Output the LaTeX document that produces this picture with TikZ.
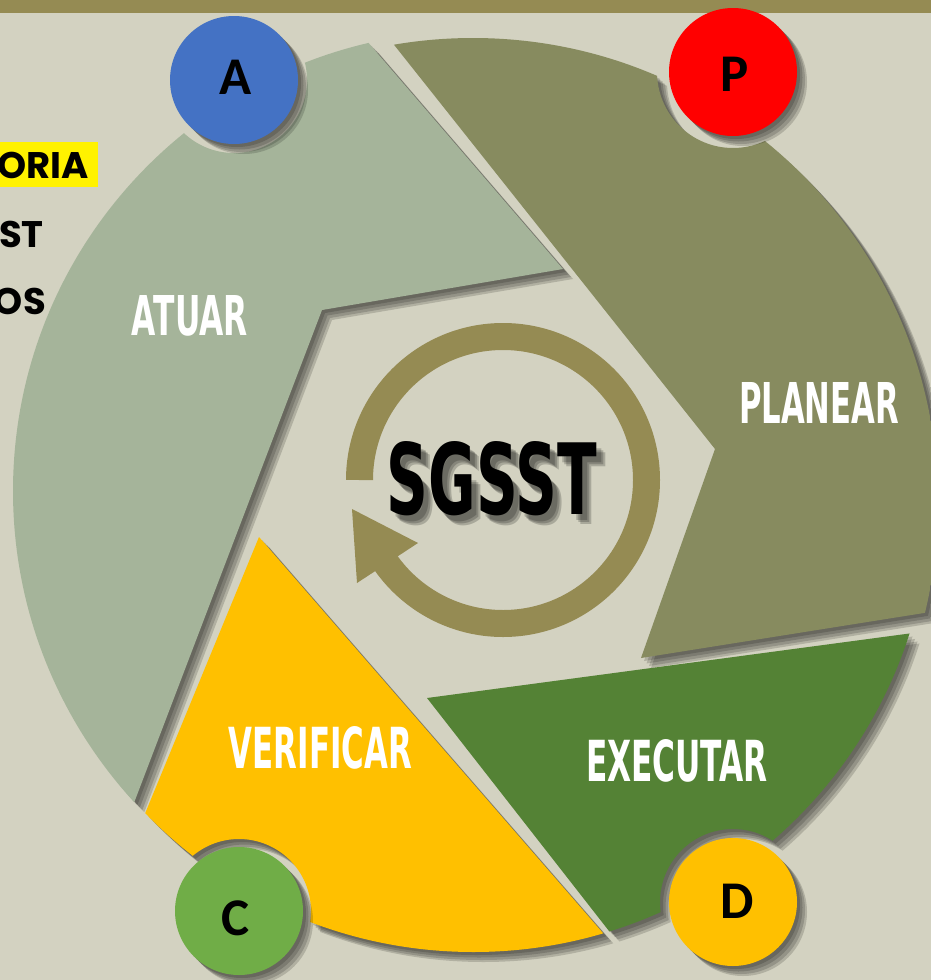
\documentclass[tikz,border=0pt]{standalone}
\usepackage{fontspec}
\usepackage{graphicx}
\setmainfont{DejaVu Sans}
\newfontfamily\carl{Carlito}
\newfontfamily\popp{Poppins}
\definecolor{bg}{HTML}{D3D2C1}
\definecolor{bar}{HTML}{958B53}
\definecolor{atuarc}{HTML}{A5B49A}
\definecolor{planearc}{HTML}{878B5F}
\definecolor{executarc}{HTML}{548235}
\definecolor{verificarc}{HTML}{FFC000}
\definecolor{ablue}{HTML}{4472C4}
\definecolor{pred}{HTML}{FF0000}
\definecolor{cgreen}{HTML}{70AD47}
\definecolor{dyellow}{HTML}{FFC000}
\definecolor{ringc}{HTML}{958B53}
\newcommand\cutouts{\clip (1200pt,200pt) -- (1200pt,-1200pt) -- (-200pt,-1200pt) -- (-200pt,200pt) -- cycle
  (234,80) circle[radius=73pt] (733,72) circle[radius=76pt] (239,911) circle[radius=72pt] (733,902) circle[radius=73pt];}
\newcommand\seg[5]{\begin{scope}[even odd rule]\clip (#1,#2) circle[radius=#3];\cutouts\fill[#5] #4;\end{scope}}
\def\polyA{(268,-74) -- (563,269) -- (322,310) -- (100,892) -- (-200,892) -- (-200,-74) -- cycle}
\def\polyP{(314,-56) -- (715,449) -- (641,658) -- (1100,585) -- (1100,-56) -- cycle}
\def\polyE{(1100,608) -- (427,698) -- (741,1100) -- (1100,1100) -- cycle}
\def\polyV{(259,537) -- (27,1100) -- (748,1100) -- cycle}
\tikzset{
  disc/.style={circle, minimum size=128pt, inner sep=0pt},
  letter/.style={inner sep=0pt, text=black, font=\carl\bfseries\fontsize{53}{53}\selectfont},
  lbl/.style={inner sep=0pt, text=white, font=\bfseries},
  lefttxt/.style={inner sep=0pt, text=black, anchor=base east, font=\popp\bfseries\fontsize{37}{37}\selectfont},
  shd/.style={black, opacity=.16}
}
\begin{document}
\begin{tikzpicture}[x=1pt,y=-1pt]
\useasboundingbox (0,0) rectangle (931,980);
\clip (0,0) rectangle (931,980);
\fill[bg] (0,0) rectangle (931,980);
\fill[bar] (0,0) rectangle (931,12.5);
% left cut-off texts
\fill[yellow] (-2,142) rectangle (98,187);
\node[lefttxt] (t1) at (89,178) {ORIA};
\node[lefttxt] (t2) at (44,247) {ST};
\node[lefttxt] (t3) at (46,314) {OS};
% segment shadows
\foreach \s in {3,5.5,8,10}{
 \begin{scope}[shift={(\s,\s)}]
  \seg{473}{491}{460}{\polyA}{shd}
  \seg{473}{503}{465}{\polyP}{shd}
  \seg{473.5}{494.5}{457.5}{\polyE}{shd}
  \seg{473.5}{494.5}{457.5}{\polyV}{shd}
 \end{scope}}
% segments
\seg{473}{491}{460}{\polyA}{atuarc}
\seg{473}{503}{465}{\polyP}{planearc}
\seg{473.5}{494.5}{457.5}{\polyE}{executarc}
\seg{473.5}{494.5}{457.5}{\polyV}{verificarc}
% disc shadows
\foreach \s in {3,5.5,8,10}{
  \fill[shd] (234+\s,80+\s) circle[radius=64];
  \fill[shd] (733+\s,72+\s) circle[radius=64];
  \fill[shd] (239+\s,911+\s) circle[radius=64];
  \fill[shd] (733+\s,902+\s) circle[radius=64];
}
\node[disc, fill=ablue] (A) at (234,80) {};
\node[disc, fill=pred] (P) at (733,72) {};
\node[disc, fill=cgreen] (C) at (239,911) {};
\node[disc, fill=dyellow] (D) at (733,902) {};
\node[letter] (lA) at (236,77) {A};
\node[letter] (lP) at (735,74) {P};
\node[letter] (lC) at (236,918) {C};
\node[letter] (lD) at (737,901) {D};
% cycle arrow
\draw[ringc, line width=27pt] (503,480) ++(180:143.5) arc[start angle=180, end angle=505, radius=143.5];
\fill[ringc] (352,509) -- (418,543) -- (357,583) -- cycle;
% SGSST
\foreach \s/\t in {5/6,7/8,9/10}{
  \node[inner sep=0pt, text=black, text opacity=.2, font=\bfseries] at (492+\s,478.5+\t) {\resizebox{210pt}{73pt}{SGSST}};
}
\node[inner sep=0pt, text=black, font=\bfseries] (sgsst) at (492,478.5) {\resizebox{210pt}{73pt}{SGSST}};
% labels
\node[lbl] (tA) at (190,316) {\resizebox{116pt}{40pt}{ATUAR}};
\node[lbl] (tP) at (819,402.5) {\resizebox{160pt}{41pt}{PLANEAR}};
\node[lbl] (tV) at (320.5,748) {\resizebox{183pt}{42pt}{VERIFICAR}};
\node[lbl] (tE) at (677,761) {\resizebox{182pt}{42pt}{EXECUTAR}};
\end{tikzpicture}
\end{document}
